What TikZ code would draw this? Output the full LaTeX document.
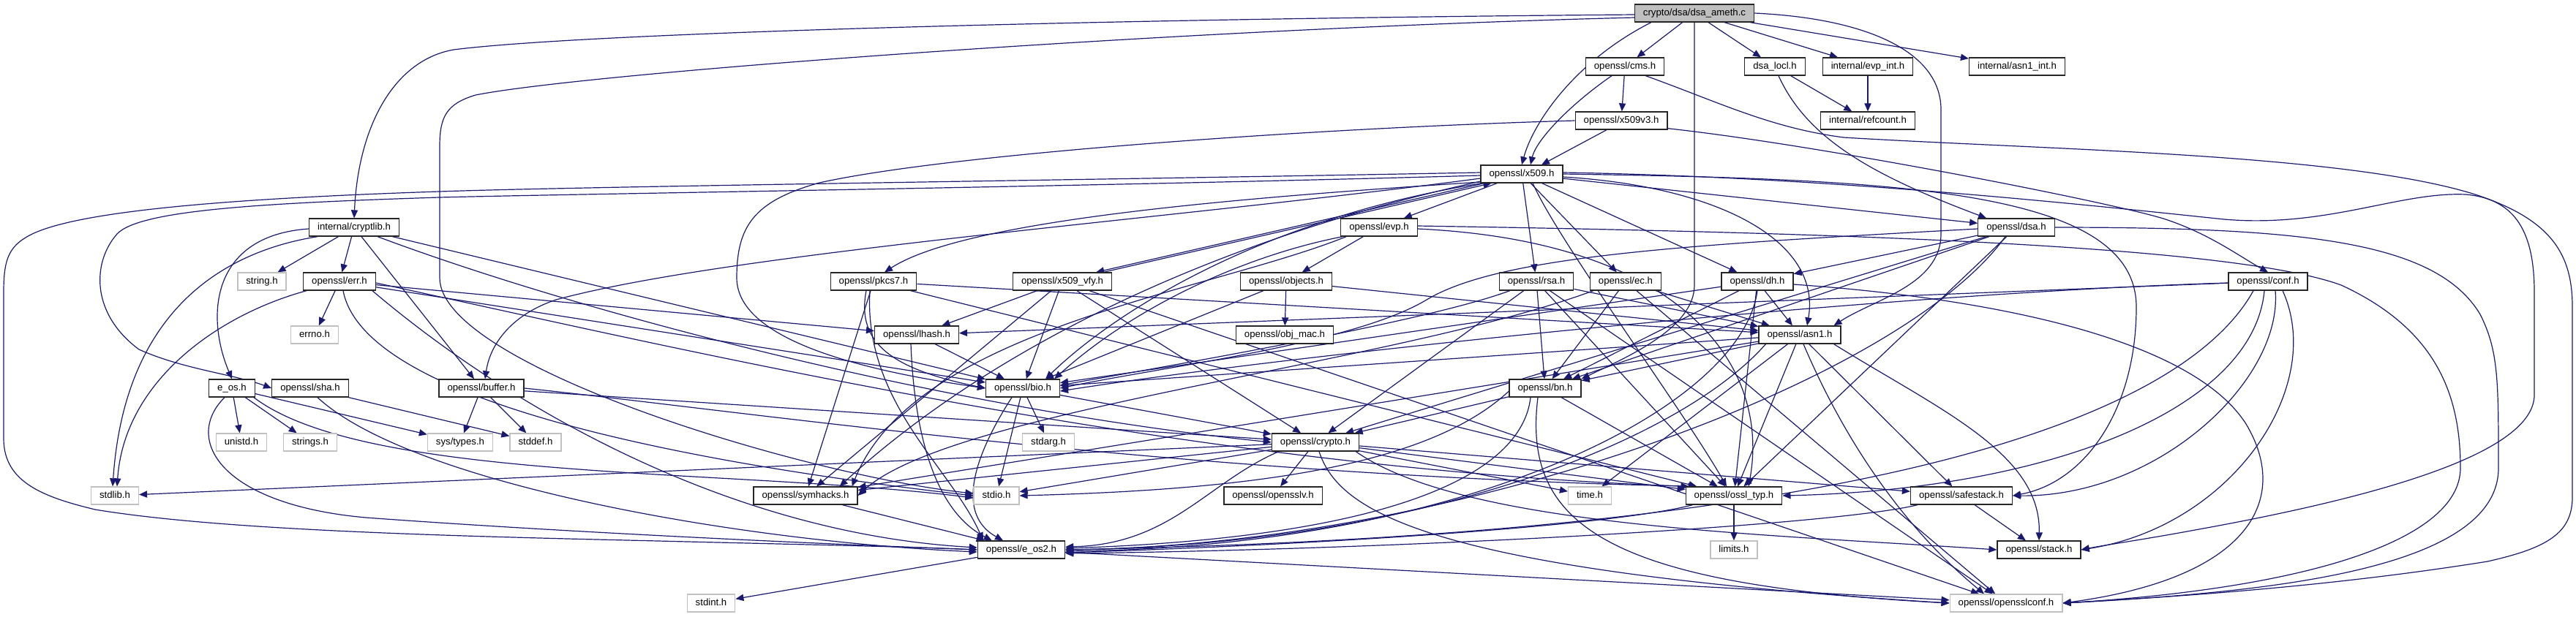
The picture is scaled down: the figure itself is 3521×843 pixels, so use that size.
\documentclass[tikz,border=0pt]{standalone}
\usepackage{fontspec}
\setmainfont{Liberation Sans}
\usetikzlibrary{arrows.meta,calc,backgrounds}
\definecolor{edgec}{HTML}{191970}
\definecolor{gbord}{HTML}{C0C0C0}
\definecolor{rootfill}{HTML}{BFBFBF}
\begin{document}
\begin{tikzpicture}[x=0.5pt,y=-0.5pt,
  nd/.style={draw=black!85, line width=0.65pt, fill=white, font=\fontsize{6.6pt}{7pt}\selectfont, inner xsep=5.75pt, inner ysep=0pt, minimum height=12pt, text height=4.8pt, text depth=1.4pt},
  gn/.style={nd, draw=gbord},
  rn/.style={nd, fill=rootfill},
  edg/.style={draw=edgec, line width=0.6pt, -{Triangle[length=5.5pt,width=4.6pt]}}]
\useasboundingbox (0,0) rectangle (3521,843);
% nodes
\node[rn] (root) at (2316,18) {crypto/dsa/dsa\_ameth.c};
\node[nd] (cms) at (2221,91) {openssl/cms.h};
\node[nd] (locl) at (2426,91) {dsa\_locl.h};
\node[nd] (evpint) at (2553,91) {internal/evp\_int.h};
\node[nd] (asnint) at (2757,91) {internal/asn1\_int.h};
\node[nd] (xvt) at (2216,165) {openssl/x509v3.h};
\node[nd] (ref) at (2553,165) {internal/refcount.h};
\node[nd] (x509) at (2080,238) {openssl/x509.h};
\node[nd] (cryptlib) at (484,311) {internal/cryptlib.h};
\node[nd] (evp) at (1885,311) {openssl/evp.h};
\node[nd] (dsa) at (2756,311) {openssl/dsa.h};
\node[gn] (string) at (358,385) {string.h};
\node[nd] (err) at (464,385) {openssl/err.h};
\node[nd] (pkcs) at (1194,385) {openssl/pkcs7.h};
\node[nd] (vfy) at (1452,385) {openssl/x509\_vfy.h};
\node[nd] (objects) at (1758,385) {openssl/objects.h};
\node[nd] (rsa) at (2100,385) {openssl/rsa.h};
\node[nd] (ec) at (2222,385) {openssl/ec.h};
\node[nd] (dh) at (2402,385) {openssl/dh.h};
\node[nd] (conf) at (3100,385) {openssl/conf.h};
\node[gn] (errno) at (430,458) {errno.h};
\node[nd] (lhash) at (1253,458) {openssl/lhash.h};
\node[nd] (objmac) at (1756,458) {openssl/obj\_mac.h};
\node[nd] (asn1) at (2460,458) {openssl/asn1.h};
\node[nd] (eos) at (317,531) {e\_os.h};
\node[nd] (sha) at (424,531) {openssl/sha.h};
\node[nd] (buffer) at (658,531) {openssl/buffer.h};
\node[nd] (bio) at (1398,531) {openssl/bio.h};
\node[nd] (bn) at (2112,531) {openssl/bn.h};
\node[gn] (unistd) at (330,605) {unistd.h};
\node[gn] (strings) at (424,605) {strings.h};
\node[gn] (systypes) at (629,605) {sys/types.h};
\node[gn] (stddef) at (732,605) {stddef.h};
\node[gn] (stdarg) at (1433,605) {stdarg.h};
\node[nd] (crypto) at (1798,605) {openssl/crypto.h};
\node[gn] (stdlib) at (157,678) {stdlib.h};
\node[nd] (symhacks) at (1101,678) {openssl/symhacks.h};
\node[gn] (stdio) at (1362,678) {stdio.h};
\node[nd] (opensslv) at (1740,678) {openssl/opensslv.h};
\node[gn] (time) at (2173,678) {time.h};
\node[nd] (ossltyp) at (2370,678) {openssl/ossl\_typ.h};
\node[nd] (safestack) at (2681,678) {openssl/safestack.h};
\node[nd] (eostwo) at (1396,752) {openssl/e\_os2.h};
\node[gn] (limits) at (2370,752) {limits.h};
\node[nd] (stack) at (2787,752) {openssl/stack.h};
\node[gn] (stdint) at (972,825) {stdint.h};
\node[gn] (osslconf) at (2742,825) {openssl/opensslconf.h};
\begin{scope}[on background layer]
\fill[white] (0,0) rectangle (3521,843);
% straight edges
\foreach \a/\b in {root/cms, root/locl, root/evpint, root/asnint, cms/xvt,
  locl/ref, evpint/ref,
  x509/evp, x509/rsa, x509/ec, x509/dh, x509/dsa,
  cryptlib/string, cryptlib/err, cryptlib/buffer, cryptlib/bio,
  err/errno, err/bio, err/lhash,
  eos/unistd, eos/strings, eos/systypes,
  evp/objects,
  dsa/crypto, dsa/ossltyp, dsa/bn, dsa/dh,
  dh/bio, dh/asn1, dh/ossltyp, dh/bn,
  rsa/osslconf, rsa/asn1, rsa/crypto, rsa/ossltyp, rsa/bn,
  ec/osslconf, ec/asn1, ec/bn,
  pkcs/asn1, pkcs/symhacks, pkcs/ossltyp,
  vfy/lhash, vfy/bio, vfy/crypto, vfy/symhacks, vfy/osslconf,
  objects/objmac, objects/bio, objects/asn1,
  conf/lhash, lhash/bio,
  asn1/time, asn1/bio, asn1/safestack, asn1/symhacks, asn1/ossltyp, asn1/bn,
  sha/stddef,
  buffer/systypes, buffer/stddef, buffer/crypto,
  bio/stdio, bio/stdarg, bio/crypto,
  bn/ossltyp, bn/crypto,
  crypto/stdlib, crypto/time, crypto/stdio, crypto/safestack, crypto/opensslv, crypto/ossltyp, crypto/symhacks,
  safestack/stack, symhacks/eostwo,
  ossltyp/limits, eostwo/osslconf, eostwo/stdint}
  \draw[edg] (\a) -- (\b);
% routed edges
\draw[edg] ([yshift=-1pt]root.west) .. controls (1500,26) and (800,45) .. (620,68) .. controls (540,82) and (490,170) .. (cryptlib.north);
\draw[edg] ([yshift=-3pt]root.west) .. controls (1600,40) and (800,100) .. (650,130) .. controls (610,142) and (601,160) .. (601,200) -- (601,380) .. controls (601,500) and (1100,650) .. ($(stdio.west)+(0,-3)$);
\draw[edg] ($(root.south west)+(23,0)$) .. controls (2150,85) and (2095,170) .. (x509.north);
\draw[edg] (root.south) -- (2316,390) .. controls (2316,450) and (2220,490) .. (bn.north east);
\draw[edg] (root.east) .. controls (2550,25) and (2653,70) .. (2653,150) -- (2653,320) .. controls (2653,390) and (2560,410) .. ($(asn1.north east)+(-10,0)$);
\draw[edg] ($(cms.south)+(-18,0)$) .. controls (2150,140) and (2100,190) .. ($(x509.north)+(12,0)$);
\draw[edg] ($(cms.south east)+(-26,0)$) .. controls (2350,140) and (2420,175) .. (2520,188) .. controls (2800,205) and (3200,210) .. (3380,265) .. controls (3490,300) and (3516,350) .. (3516,420) -- (3516,680) .. controls (3516,730) and (3480,750) .. (3400,768) .. controls (3200,800) and (3000,815) .. (osslconf.east);
\draw[edg] ($(xvt.south)+(-20,0)$) -- ($(x509.north)+(27,0)$);
\draw[edg] (xvt.west) .. controls (1800,175) and (1300,210) .. (1120,250) .. controls (1030,275) and (1007,310) .. (1007,380) .. controls (1007,470) and (1200,510) .. (bio.west);
\draw[edg] ($(xvt.south east)+(0,-2)$) .. controls (2500,200) and (2900,280) .. (2960,300) .. controls (3020,320) and (3060,350) .. (conf.north);
\draw[edg] ($(locl.south)+(5,0)$) .. controls (2470,190) and (2560,240) .. ($(dsa.north west)+(12,0)$);
% x509
\draw[edg] ([yshift=1pt]x509.west) .. controls (1500,246) and (800,255) .. (600,262) .. controls (300,272) and (90,290) .. (35,325) .. controls (10,340) and (5,360) .. (5,400) -- (5,600) .. controls (5,660) and (60,680) .. (130,697) .. controls (300,725) and (600,733) .. (900,740) .. controls (1100,745) and (1250,748) .. (eostwo.west);
\draw[edg] ([yshift=-1pt]x509.west) .. controls (1500,255) and (800,265) .. (600,270) .. controls (350,278) and (190,288) .. (160,320) .. controls (125,360) and (125,430) .. (190,478) .. controls (250,505) and (320,512) .. (sha.west);
\draw[edg] ([yshift=-3pt]x509.west) .. controls (1600,300) and (1000,345) .. (760,410) .. controls (700,430) and (670,470) .. ($(buffer.north)+(5,0)$);
\draw[edg] ($(x509.south west)+(5,-2)$) .. controls (1700,270) and (1320,300) .. ($(pkcs.north)+(15,0)$);
\draw[edg] ([yshift=-2pt]x509.east) .. controls (2350,255) and (2490,330) .. ($(asn1.north)+(10,0)$);
\draw[edg] ([yshift=1pt]x509.east) .. controls (2500,242) and (2850,280) .. (3040,300) .. controls (3180,312) and (3280,262) .. (3370,266) .. controls (3440,272) and (3464,320) .. (3464,400) -- (3464,540) .. controls (3464,620) and (3250,680) .. (3000,725) .. controls (2930,738) and (2880,745) .. (stack.east);
\draw[edg] (x509.east) .. controls (2600,245) and (2920,260) .. (2920,420) .. controls (2920,560) and (2850,660) .. (safestack.east);
\draw[edg] ($(x509.south west)+(5,0)$) -- ($(vfy.north east)+(-22,0)$);
\draw[edg] ($(vfy.north east)+(-12,0)$) -- ($(x509.south west)+(15,0)$);
\draw[edg] ($(x509.south west)+(2,-3)$) .. controls (1650,330) and (1350,480) .. ($(symhacks.north east)+(-25,0)$);
\draw[edg] ($(x509.south west)+(2,0)$) .. controls (1720,300) and (1520,430) .. ($(bio.north east)+(-20,0)$);
\draw[edg] ($(x509.south)+(15,0)$) .. controls (2130,330) and (2300,560) .. ($(ossltyp.north)+(-10,0)$);
% cryptlib / err / e_os
\draw[edg] ($(cryptlib.south west)+(12,0)$) .. controls (300,345) and (170,430) .. ($(stdlib.north)+(-3,0)$);
\draw[edg] ($(err.south west)+(5,0)$) .. controls (300,430) and (170,520) .. ($(stdlib.north)+(3,0)$);
\draw[edg] ([yshift=-1pt]cryptlib.west) .. controls (290,322) and (280,430) .. (eos.north);
\draw[edg] ($(cryptlib.south east)+(-30,0)$) .. controls (800,430) and (1300,560) .. (crypto.west);
\draw[edg] ($(err.south)+(5,0)$) .. controls (500,560) and (1000,640) .. (stdio.west);
\draw[edg] ([yshift=-1pt]err.east) .. controls (900,470) and (1600,640) .. ($(ossltyp.north west)+(5,0)$);
\draw[edg] ($(err.south east)+(-5,0)$) .. controls (700,560) and (1000,730) .. ($(eostwo.west)+(0,-3)$);
\draw[edg] ($(eos.south)+(-10,0)$) .. controls (250,600) and (300,690) .. (500,708) .. controls (800,730) and (1150,745) .. (eostwo.west);
\draw[edg] ($(eos.south east)+(-2,0)$) .. controls (500,660) and (1000,640) .. ($(stdio.west)+(0,3)$);
\draw[edg] ($(sha.south)+(10,0)$) .. controls (560,660) and (1000,740) .. ($(eostwo.west)+(0,3)$);
\draw[edg] (buffer.east) .. controls (1000,560) and (1600,650) .. ($(ossltyp.north west)+(15,0)$);
% evp
\draw[edg] ([yshift=1pt]evp.east) .. controls (2500,318) and (3050,335) .. (3200,390) .. controls (3330,450) and (3363,540) .. (3363,640) .. controls (3363,740) and (3150,805) .. (osslconf.east);
\draw[edg] ([yshift=-1pt]evp.east) .. controls (2300,330) and (2420,500) .. ($(ossltyp.north)+(20,0)$);
\draw[edg] ($(evp.south west)+(3,0)$) .. controls (1700,350) and (1550,420) .. ($(bio.north east)+(-8,0)$);
\draw[edg] ($(evp.south west)+(8,0)$) .. controls (1650,400) and (1250,450) .. ($(symhacks.north east)+(-8,0)$);
% dsa / dh / rsa / ec
\draw[edg] (dsa.east) .. controls (3150,311) and (3330,330) .. (3390,430) .. controls (3415,480) and (3415,520) .. (3415,640) .. controls (3415,780) and (3100,810) .. (osslconf.east);
\draw[edg] ($(dsa.south)+(-15,0)$) .. controls (2600,520) and (2000,745) .. (eostwo.east);
\draw[edg] ([yshift=-1pt]dsa.west) .. controls (2300,335) and (2050,350) .. (1950,410) .. controls (1850,470) and (1600,500) .. (bio.east);
\draw[edg] ([yshift=-2pt]dh.east) .. controls (2750,410) and (3000,470) .. (3070,580) .. controls (3130,680) and (3080,790) .. (osslconf.east);
\draw[edg] (dh.south) .. controls (2380,560) and (2000,748) .. ($(eostwo.east)+(0,2)$);
\draw[edg] ($(rsa.south west)+(15,0)$) .. controls (1950,440) and (1600,500) .. ($(bio.east)+(0,-4)$);
\draw[edg] ($(ec.south west)+(5,0)$) .. controls (1900,500) and (1300,560) .. (symhacks.east);
% conf
\draw[edg] ([yshift=-1pt]conf.west) .. controls (2600,400) and (1800,480) .. ($(bio.east)+(0,4)$);
\draw[edg] ($(conf.south)+(20,0)$) .. controls (3180,530) and (3050,720) .. (stack.east);
\draw[edg] ($(conf.south)+(10,0)$) .. controls (3120,520) and (2950,680) .. (safestack.east);
\draw[edg] ($(conf.south)+(-20,0)$) .. controls (2990,560) and (2600,730) .. (eostwo.east);
\draw[edg] ($(conf.south)+(-5,0)$) .. controls (3080,560) and (2800,670) .. (ossltyp.east);
% pkcs7 / lhash / bio
\draw[edg] ($(pkcs.south)+(-10,0)$) .. controls (1170,470) and (1220,505) .. (bio.west);
\draw[edg] ($(pkcs.south)+(-5,0)$) .. controls (1180,550) and (1300,640) .. ($(eostwo.north west)+(8,0)$);
\draw[edg] ($(lhash.south)+(-8,0)$) .. controls (1250,600) and (1280,700) .. ($(eostwo.north west)+(20,0)$);
\draw[edg] ($(bio.south)+(-15,0)$) .. controls (1340,610) and (1300,700) .. ($(eostwo.north)+(-25,0)$);
% asn1 / bn / crypto / others
\draw[edg] ($(asn1.south)+(5,0)$) .. controls (2520,600) and (2600,720) .. ($(osslconf.north)+(-30,0)$);
\draw[edg] ($(asn1.south east)+(-10,0)$) .. controls (2650,560) and (2790,620) .. (stack.north);
\draw[edg] ($(asn1.south west)+(10,0)$) .. controls (2300,600) and (1950,745) .. (eostwo.east);
\draw[edg] ($(bn.south)+(-10,0)$) .. controls (2080,720) and (2200,800) .. (osslconf.west);
\draw[edg] ([yshift=-2pt]bn.west) .. controls (1950,640) and (1700,670) .. (stdio.east);
\draw[edg] ($(bn.south)+(-20,0)$) .. controls (2080,650) and (1900,735) .. ($(eostwo.east)+(0,-2)$);
\draw[edg] ($(crypto.south east)+(-5,0)$) .. controls (2000,720) and (2400,730) .. (stack.west);
\draw[edg] ($(crypto.south)+(5,0)$) .. controls (1830,700) and (1950,780) .. (osslconf.west);
\draw[edg] ($(crypto.south west)+(10,0)$) .. controls (1650,660) and (1600,745) .. ($(eostwo.east)+(0,-4)$);
\draw[edg] ($(ossltyp.south west)+(10,0)$) .. controls (2200,720) and (1800,745) .. ($(eostwo.east)+(0,4)$);
\draw[edg] ($(safestack.south west)+(10,0)$) .. controls (2500,720) and (1900,752) .. ($(eostwo.east)+(0,5)$);
\end{scope}
\end{tikzpicture}
\end{document}
